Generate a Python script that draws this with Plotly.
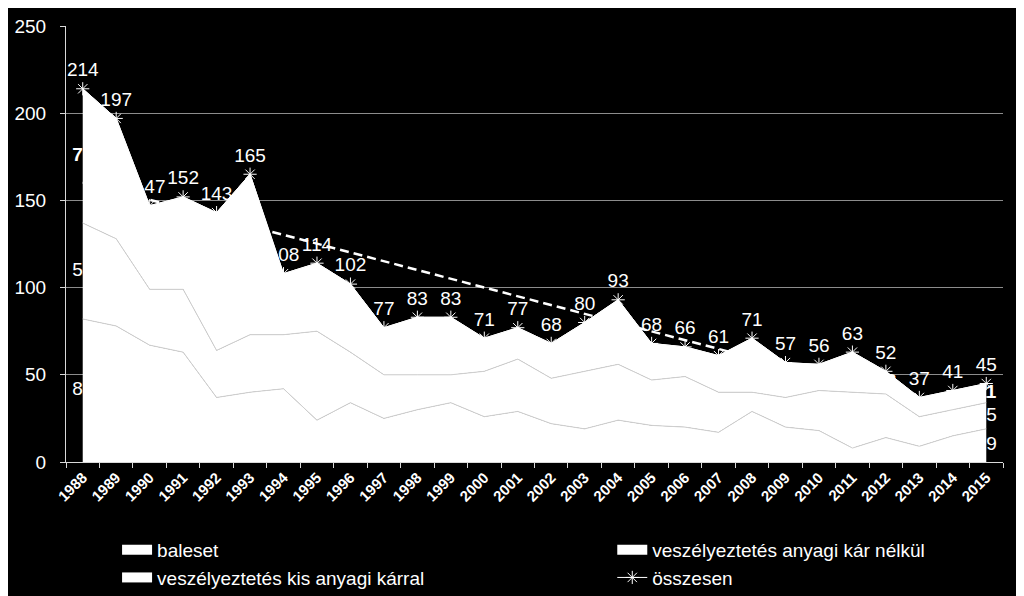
import numpy as np
import plotly.graph_objects as go

years = ["1988", "1989", "1990", "1991", "1992", "1993", "1994", "1995", "1996", "1997",
         "1998", "1999", "2000", "2001", "2002", "2003", "2004", "2005", "2006", "2007",
         "2008", "2009", "2010", "2011", "2012", "2013", "2014", "2015"]

baleset = [82, 78, 67, 63, 37, 40, 42, 24, 34, 25, 30, 34, 26, 29, 22, 19, 24, 21, 20, 17,
           29, 20, 18, 8, 14, 9, 15, 19]
anyagi_kar_nelkul = [55, 50, 32, 36, 27, 33, 31, 51, 29, 25, 20, 16, 26, 30, 26, 33, 32, 26, 29, 23,
                     11, 17, 23, 32, 25, 17, 15, 15]
kis_anyagi_karral = [77, 69, 48, 53, 79, 92, 35, 39, 39, 27, 33, 33, 19, 18, 20, 28, 37, 21, 17, 21,
                     31, 20, 15, 23, 13, 11, 11, 11]
osszesen = [214, 197, 147, 152, 143, 165, 108, 114, 102, 77, 83, 83, 71, 77, 68, 80, 93, 68, 66, 61,
            71, 57, 56, 63, 52, 37, 41, 45]

trend_years = ["1988", "2015"]
trend_values = [160.4, 24.6]

names = ["baleset", "veszélyeztetés anyagi kár nélkül", "veszélyeztetés kis anyagi kárral", "összesen"]
y_ticks = [0, 50, 100, 150, 200, 250]

FONT = "Arial, Liberation Sans, sans-serif"
LBL = 19

b0 = np.array(baleset, dtype=float)
b1 = b0 + np.array(anyagi_kar_nelkul)
mid_bal = b0 / 2
mid_nel = b0 + np.array(anyagi_kar_nelkul) / 2
mid_kis = b1 + np.array(kis_anyagi_karral) / 2

fig = go.Figure()

# band value labels (white on white, only the edges show)
for ys, vals, bold in [(mid_bal, baleset, False), (mid_nel, anyagi_kar_nelkul, False),
                       (mid_kis, kis_anyagi_karral, True)]:
    fig.add_trace(go.Scatter(
        x=years, y=ys, mode="text", text=[str(v) for v in vals],
        textposition="middle center",
        textfont=dict(color="white", size=LBL, family=FONT, weight="bold" if bold else "normal"),
        showlegend=False, hoverinfo="skip"))

# total line with markers and labels
fig.add_trace(go.Scatter(
    x=years, y=osszesen, name=names[3], mode="lines+markers+text",
    line=dict(color="white", width=1),
    marker=dict(symbol="asterisk-open", size=11, color="white", line=dict(color="white", width=1)),
    text=[str(v) for v in osszesen], textposition="top center",
    textfont=dict(color="white", size=LBL, family=FONT),
    legend="legend2", legendrank=2))

# linear trend line (dashed)
fig.add_trace(go.Scatter(
    x=trend_years, y=trend_values, mode="lines",
    line=dict(color="white", width=2.5, dash="9px,5px"),
    showlegend=False, hoverinfo="skip"))

# stacked areas
fig.add_trace(go.Scatter(
    x=years, y=baleset, name=names[0], stackgroup="one", mode="lines",
    line=dict(color="#d0d0d0", width=1), fillcolor="white", showlegend=False))
fig.add_trace(go.Scatter(
    x=years, y=anyagi_kar_nelkul, name=names[1], stackgroup="one", mode="lines",
    line=dict(color="#d0d0d0", width=1), fillcolor="white", showlegend=False))
fig.add_trace(go.Scatter(
    x=years, y=kis_anyagi_karral, name=names[2], stackgroup="one", mode="lines",
    line=dict(color="white", width=1), fillcolor="white", showlegend=False))

# legend swatches for the areas (white boxes)
for nm, lg, rk in [(names[0], "legend", 1), (names[2], "legend", 2), (names[1], "legend2", 1)]:
    fig.add_trace(go.Scatter(
        x=[None], y=[None], name=nm, mode="lines",
        line=dict(color="white", width=12),
        legend=lg, legendrank=rk, hoverinfo="skip"))

fig.update_layout(
    width=1024, height=596,
    paper_bgcolor="black", plot_bgcolor="black",
    margin=dict(l=58, r=29, t=18, b=142, autoexpand=False),
    font=dict(family=FONT, color="white", size=LBL),
    legend=dict(x=0.0545, y=-0.158, xanchor="left", yanchor="top", orientation="v",
                traceorder="normal", font=dict(size=LBL, color="white", family=FONT),
                bgcolor="rgba(0,0,0,0)", itemclick=False),
    legend2=dict(x=0.583, y=-0.158, xanchor="left", yanchor="top", orientation="v",
                 traceorder="normal", font=dict(size=LBL, color="white", family=FONT),
                 bgcolor="rgba(0,0,0,0)", itemclick=False),
    xaxis=dict(type="category", categoryorder="array", categoryarray=years,
               range=[-0.5, 27.5], showgrid=False, showline=True, linecolor="#d9d9d9",
               linewidth=1, ticks="outside", tickson="boundaries", ticklen=5,
               tickcolor="#d9d9d9", tickangle=-45, automargin=False,
               tickfont=dict(size=15, color="white", family=FONT, weight="bold")),
    yaxis=dict(range=[0, 250], tickvals=y_ticks, showgrid=True, gridcolor="#8c8c8c",
               gridwidth=1, showline=True, linecolor="#d9d9d9", linewidth=1,
               ticks="outside", ticklen=5, tickcolor="#d9d9d9", zeroline=False,
               ticklabelstandoff=10, automargin=False,
               tickfont=dict(size=LBL, color="white", family=FONT)),
    showlegend=True,
)

fig.write_html("out.html")
